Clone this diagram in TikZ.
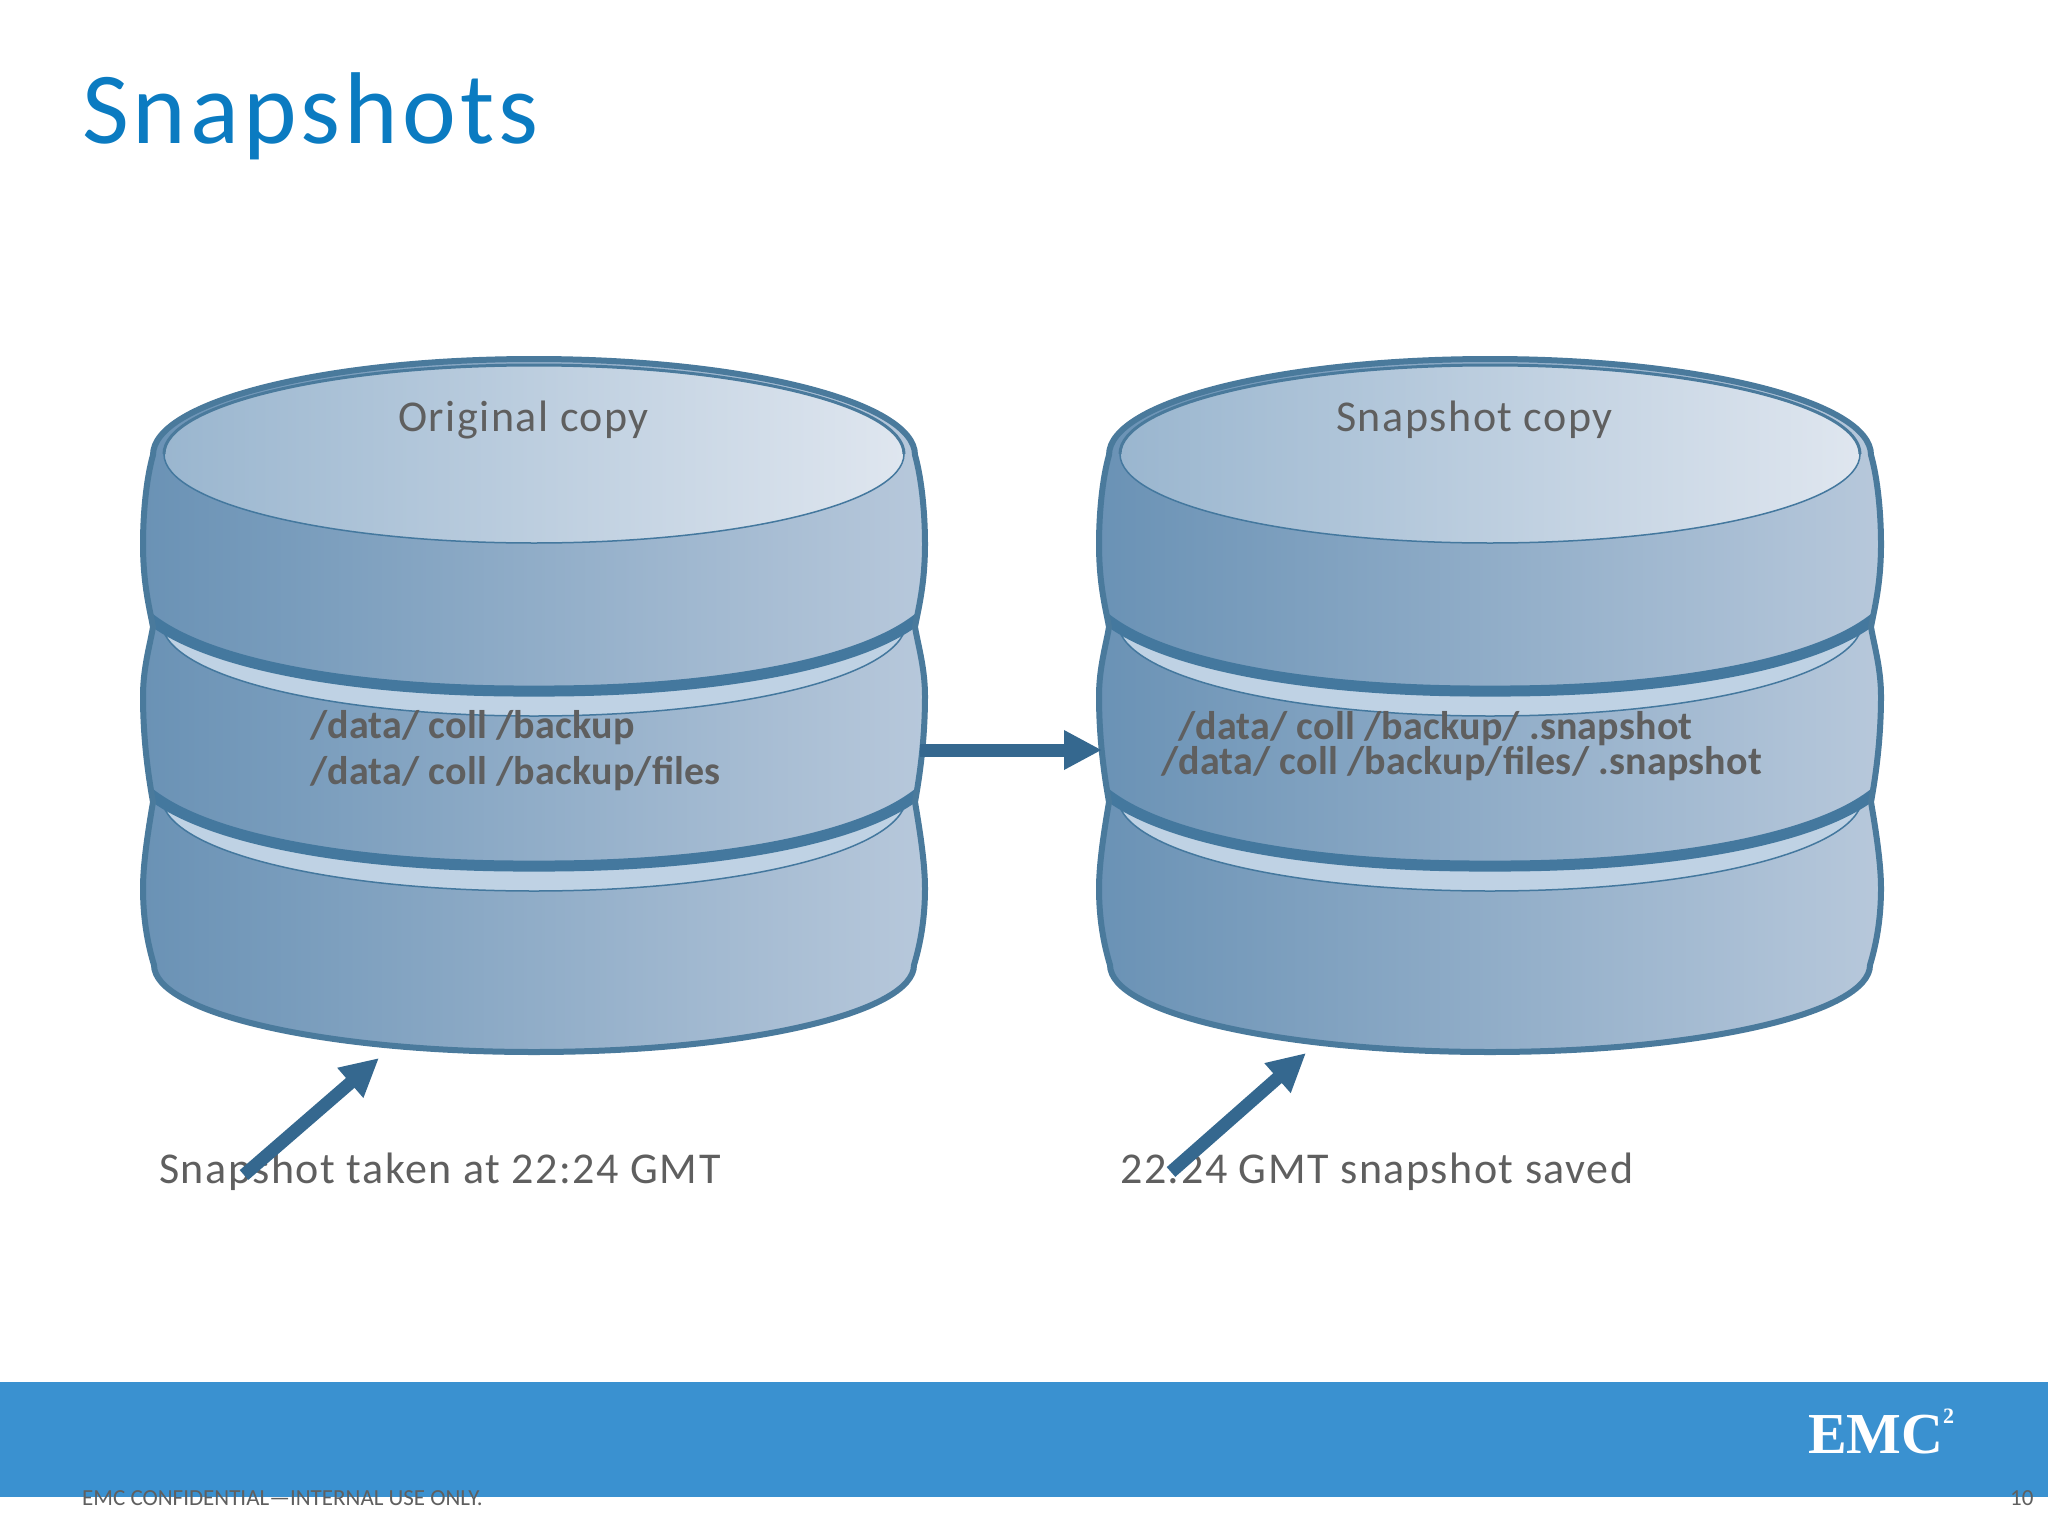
\documentclass[tikz,border=0pt]{standalone}
\usepackage{fontspec}
\setmainfont{Carlito}
\newfontfamily\spaced[LetterSpace=3.5]{Carlito}
\newfontfamily\titlefont[LetterSpace=4]{Carlito}
\newfontfamily\boldspaced[LetterSpace=0.5]{Carlito}
\newfontfamily\logofont{Liberation Serif}
\usetikzlibrary{arrows.meta}
\definecolor{titleblue}{HTML}{0B7BC1}
\definecolor{barblue}{HTML}{3A91D0}
\definecolor{edgeblue}{HTML}{4A7A9C}
\definecolor{grooveblue}{HTML}{44789E}
\definecolor{arrowblue}{HTML}{35688F}
\definecolor{bodyL}{HTML}{6A92B5}
\definecolor{bodyM}{HTML}{84A3C2}
\definecolor{bodyR}{HTML}{B7C8DB}
\definecolor{topL}{HTML}{9AB6CF}
\definecolor{topM}{HTML}{AFC3D8}
\definecolor{topR}{HTML}{DFE6EF}
\definecolor{lightband}{HTML}{BFD2E4}
\definecolor{inkgrey}{HTML}{5F5F5F}
\def\cylbody{(153,455) .. controls (153,402) and (324,359) .. (534,359)
      .. controls (744,359) and (915,402) .. (915,455)
      .. controls (922,480) and (925,515) .. (925,544)
      .. controls (925,585) and (918,610) .. (915,627)
      .. controls (918,645) and (925,668) .. (925,696)
      .. controls (925,745) and (918,785) .. (915,802)
      .. controls (918,820) and (925,860) .. (925,888)
      .. controls (925,920) and (920,945) .. (914,965)
      .. controls (914,1013) and (744,1052) .. (534,1052)
      .. controls (324,1052) and (154,1013) .. (154,965)
      .. controls (148,945) and (143,920) .. (143,888)
      .. controls (143,860) and (150,820) .. (153,802)
      .. controls (150,785) and (143,745) .. (143,696)
      .. controls (143,668) and (150,645) .. (153,627)
      .. controls (150,610) and (143,585) .. (143,544)
      .. controls (143,515) and (146,480) .. (153,455) -- cycle}
\tikzset{
  x=1pt,y=-1pt,
  txt/.style={anchor=base west,inner sep=0pt,text=inkgrey},
  flow/.style={draw=arrowblue,line width=13pt,-{Triangle[length=38pt,width=37pt,fill=arrowblue]}},
  storagecyl/.pic={
    \shade[left color=bodyL,middle color=bodyM,right color=bodyR] \cylbody;
    \begin{scope}
      \clip \cylbody;
      \foreach \dy in {0,175}{
        \fill[lightband] (163,630+\dy) .. controls (215,670+\dy) and (370,693+\dy) .. (534,693+\dy)
          .. controls (698,693+\dy) and (853,670+\dy) .. (905,630+\dy)
          .. controls (888,680+\dy) and (728,716+\dy) .. (534,716+\dy)
          .. controls (340,716+\dy) and (180,680+\dy) .. (163,630+\dy) -- cycle;
        \draw[grooveblue,line width=1.5pt] (163,630+\dy) .. controls (180,680+\dy) and (340,716+\dy) .. (534,716+\dy)
          .. controls (728,716+\dy) and (888,680+\dy) .. (905,630+\dy);
        \draw[grooveblue,line width=11pt] (148,617+\dy) .. controls (210,668+\dy) and (370,692+\dy) .. (534,691+\dy)
          .. controls (698,692+\dy) and (858,668+\dy) .. (920,617+\dy);
      }
    \end{scope}
    \draw[edgeblue,line width=6pt,line join=round] \cylbody;
    \shade[left color=topL,middle color=topM,right color=topR]
      (534,454) ellipse [x radius=370,y radius=89];
    \draw[grooveblue,line width=1.5pt] (534,454) ellipse [x radius=370,y radius=89];
    \draw[edgeblue,line width=3pt] (164,454) arc [start angle=180,end angle=0,x radius=370,y radius=-89];
  }
}
\begin{document}
\begin{tikzpicture}
\useasboundingbox (0,0) rectangle (2048,1536);
\fill[white] (0,0) rectangle (2048,1536);
\node[anchor=base west,inner sep=0pt,text=titleblue,font=\titlefont\fontsize{102}{102}\selectfont] (title) at (82,144) {Snapshots};

\pic (origcyl) at (0,0) {storagecyl};
\pic (snapcyl) at (956,0) {storagecyl};

\tikzset{big/.style={txt,font=\spaced\fontsize{44}{44}\selectfont},
         pathtxt/.style={txt,font=\boldspaced\bfseries\fontsize{40}{40}\selectfont}}
\node[big] (origlabel) at (398,431) {Original copy};
\node[big] (snaplabel) at (1336,431) {Snapshot copy};
\node[pathtxt] (p1) at (310,738) {/data/ coll /backup};
\node[pathtxt] (p2) at (310,784) {/data/ coll /backup/files};
\node[pathtxt] (p3) at (1178,739) {/data/ coll /backup/ .snapshot};
\node[pathtxt] (p4) at (1161,774) {/data/ coll /backup/files/ .snapshot};
\node[big] (takenlabel) at (159,1183) {Snapshot taken at 22:24 GMT};
\node[big] (savedlabel) at (1120,1183) {22:24 GMT snapshot saved};

\coordinate (flowA) at (920,750);
\coordinate (flowB) at (1102,750);
\coordinate (takenA) at (244,1175);
\coordinate (takenB) at (379,1058);
\coordinate (savedA) at (1171,1172);
\coordinate (savedB) at (1306,1053);
\draw[flow] (flowA) -- (flowB);
\draw[flow] (takenA) -- (takenB);
\draw[flow] (savedA) -- (savedB);

\fill[barblue] (0,1382) rectangle (2048,1497);
\node[anchor=base west,inner sep=0pt,text=white,font=\logofont\bfseries\fontsize{58}{58}\selectfont] (logo) at (1808,1453) {EMC};
\node[anchor=base west,inner sep=0pt,text=white,font=\logofont\bfseries\fontsize{22}{22}\selectfont] (logotwo) at (1943,1423) {2};
\node[txt,font=\fontsize{23}{23}\selectfont] (foot) at (82,1505) {EMC CONFIDENTIAL—INTERNAL USE ONLY.};
\node[txt,font=\fontsize{23}{23}\selectfont] (pageno) at (2010,1505) {10};
\end{tikzpicture}
\end{document}
